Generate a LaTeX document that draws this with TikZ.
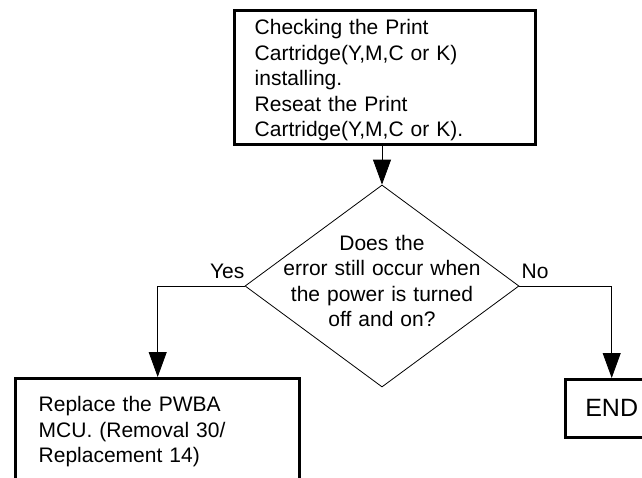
\documentclass[tikz,border=0pt]{standalone}
\usepackage{fontspec}
\setmainfont{Liberation Sans}
\usetikzlibrary{arrows.meta,shapes.geometric,calc}
\begin{document}
\begin{tikzpicture}[x=1pt,y=-1pt,
  procbox/.style={draw, line width=3.4pt, rectangle, inner ysep=0pt, align=left,
    font=\fontsize{21}{25.5}\selectfont, anchor=north west},
  decision/.style={draw, line width=0.8pt, diamond, inner sep=0pt,
    minimum width=274pt, minimum height=202pt},
  dtext/.style={align=center, text width=210pt, inner sep=0pt, text height=0pt,
    anchor=north, font=\fontsize{21}{25.5}\selectfont},
  lbl/.style={inner sep=0pt, font=\fontsize{21}{25}\selectfont},
  conn/.style={line width=0.8pt, -{Triangle[length=25pt,width=18pt]}},
]
\clip (0,0) rectangle (642,477);

\node[procbox, inner xsep=20pt, text width=261pt, text height=24pt, text depth=110pt]
  (b1) at (233,9) {Checking the Print\\Cartridge(Y,M,C or K)\\installing.\\Reseat the Print\\Cartridge(Y,M,C or K).};

\node[decision] (d) at (382,286) {};
\node[dtext] (dt) at (382,250) {Does the\\error still occur when\\the power is turned\\off and on?};

\node[procbox, inner xsep=23pt, text width=238pt, text height=33pt, text depth=120pt]
  (b2) at (14,377) {Replace the PWBA\\MCU. (Removal 30/\\Replacement 14)};

\node[procbox, align=center, font=\fontsize{25}{30}\selectfont, inner xsep=0pt,
  text width=92pt, text height=37pt, text depth=21pt] (e) at (564,378) {END};

\draw[conn] (b1.south -| d.north) -- (d.north);
\draw[conn] (d.west) -| (b2.north);
\draw[conn] (d.east) -| (e.north);

\node[lbl, anchor=base east] (yes) at ($(d.west)+(0,-8)$) {Yes};
\node[lbl, anchor=base west] (no) at ($(d.east)+(2,-8)$) {No};
\end{tikzpicture}
\end{document}
